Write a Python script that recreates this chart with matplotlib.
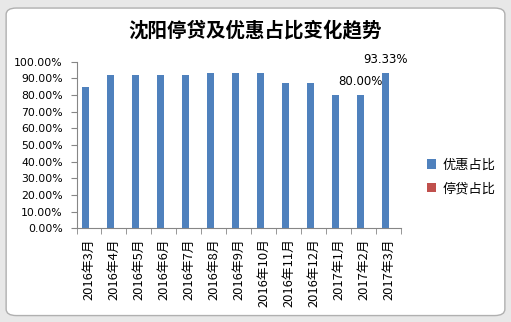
import numpy as np
import matplotlib.pyplot as plt
from matplotlib.patches import FancyBboxPatch
from matplotlib.ticker import FuncFormatter

plt.rcParams['font.family'] = ['Noto Sans CJK SC', 'DejaVu Sans']

months = ['2016年3月', '2016年4月', '2016年5月', '2016年6月', '2016年7月',
          '2016年8月', '2016年9月', '2016年10月', '2016年11月', '2016年12月',
          '2017年1月', '2017年2月', '2017年3月']
youhui = [84.62, 92.31, 92.31, 92.31, 92.31, 93.33, 93.33, 93.33,
          87.0, 87.0, 80.0, 80.0, 93.33]
tingdai = [0] * 13
labeled = {11: '80.00%', 12: '93.33%'}

blue = '#4f81bd'
red = '#c0504d'

fig = plt.figure(figsize=(5.11, 3.22), dpi=100)
fig.patch.set_facecolor('#e8e8e8')
frame = FancyBboxPatch((0.012, 0.02), 0.976, 0.955,
                       boxstyle='round,pad=0,rounding_size=0.02',
                       transform=fig.transFigure, facecolor='white',
                       edgecolor='#b0b0b0', linewidth=1.0, zorder=-10)
fig.patches.append(frame)

ax = fig.add_axes([76.5 / 511, 1 - 228.3 / 322, (401 - 76.5) / 511, (228.3 - 61.7) / 322])
ax.patch.set_alpha(0)
x = np.arange(len(months))
w = 0.28
ax.bar(x - w / 2, youhui, w, color=blue, label='优惠占比', zorder=2)
ax.bar(x + w / 2, tingdai, w, color=red, label='停贷占比', zorder=2)

for i, txt in labeled.items():
    ax.annotate(txt, (x[i] - w / 2, youhui[i]), xytext=(0, 5),
                textcoords='offset points', ha='center', va='bottom',
                fontsize=8.5, family='DejaVu Sans')

ax.set_xlim(-0.5, len(months) - 0.5)
ax.set_ylim(0, 100)
ax.set_yticks(np.arange(0, 101, 10))
ax.yaxis.set_major_formatter(FuncFormatter(lambda v, p: f'{v:.2f}%'))
ax.set_xticks(x)
ax.set_xticklabels(months, rotation=90, fontsize=9.3)
ax.set_xticks(np.arange(-0.5, len(months), 1), minor=True)
ax.tick_params(axis='x', which='major', length=0, pad=7)
ax.tick_params(axis='x', which='minor', length=4, color='#868686')
ax.tick_params(axis='y', length=4, color='#868686', labelsize=7.8, pad=6)
for lbl in ax.get_yticklabels():
    lbl.set_family('DejaVu Sans')

for s in ['top', 'right']:
    ax.spines[s].set_visible(False)
ax.spines['left'].set_color('#868686')
ax.spines['bottom'].set_color('#868686')

fig.text(0.5, 1 - 30 / 322, '沈阳停贷及优惠占比变化趋势', ha='center', va='center',
         fontsize=14, fontweight='bold')

fig.legend(loc='center left', bbox_to_anchor=(415 / 511, 1 - 177 / 322),
           frameon=False, fontsize=9.5, handlelength=0.7, handleheight=0.7,
           labelspacing=0.8, handletextpad=0.5)

fig.savefig('out.png', dpi=100, facecolor=fig.get_facecolor())
